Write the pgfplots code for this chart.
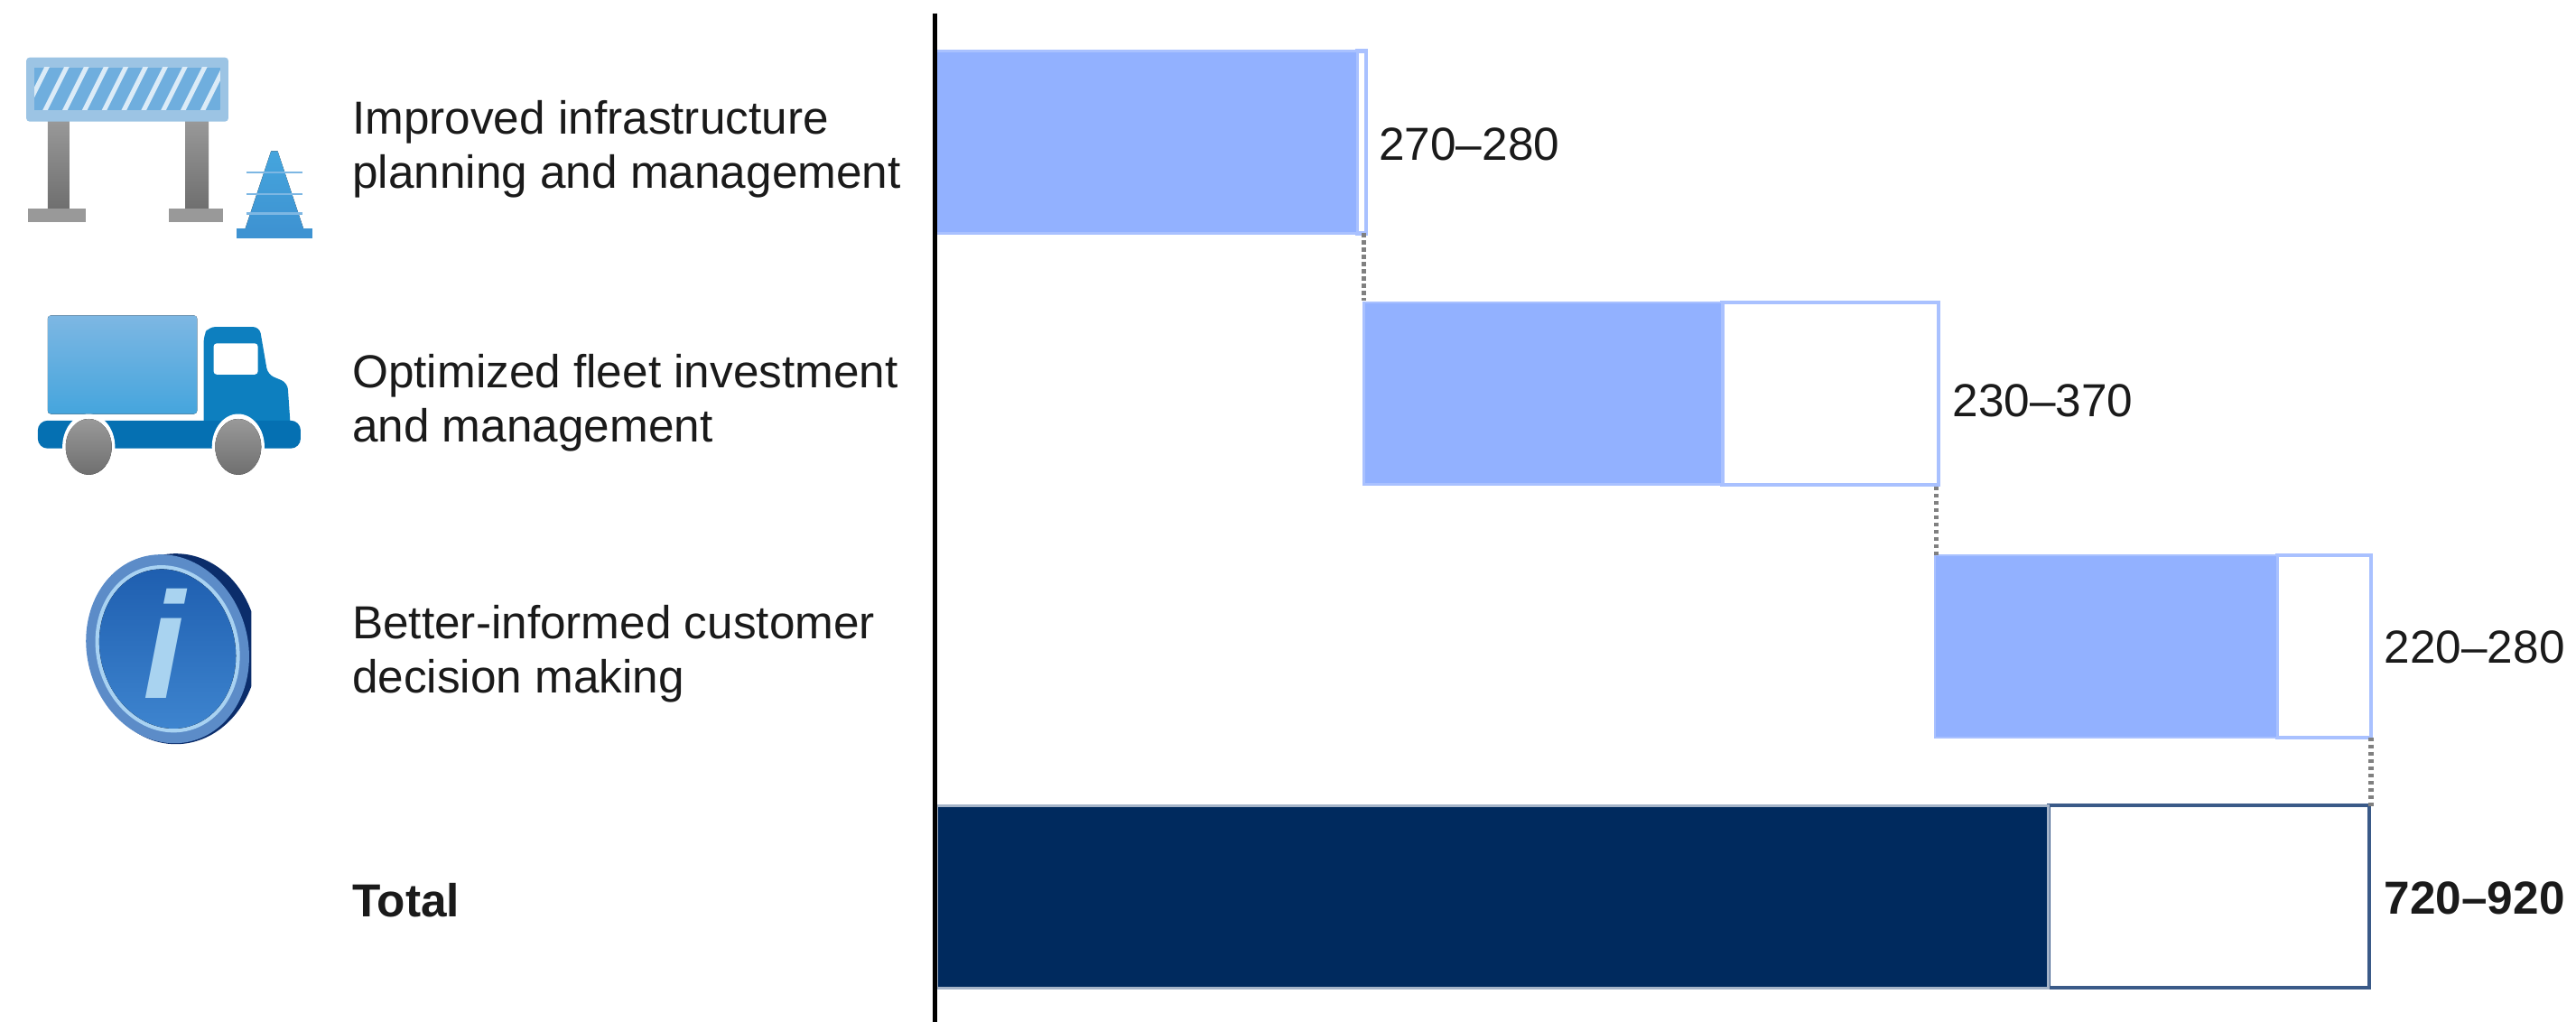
\documentclass[border=0pt]{standalone}
\usepackage{pgfplots}
\pgfplotsset{compat=1.18}
\usepackage{pgfplotstable}
\usepackage{fontspec}
\setmainfont{Liberation Sans}
\definecolor{lightbar}{HTML}{92B1FF}
\definecolor{lightedge}{HTML}{A9C1FF}
\definecolor{navy}{HTML}{002A5E}
\definecolor{navyedge}{HTML}{3A5A88}
\definecolor{navyhalo}{HTML}{A5B4C8}
\definecolor{txt}{HTML}{1A1A1A}
\definecolor{board}{HTML}{6FAEDE}
\definecolor{boardedge}{HTML}{9CC4E4}
\definecolor{cone}{HTML}{3E93D2}
\definecolor{cargoA}{HTML}{7DB7E3}
\definecolor{cargoB}{HTML}{45A5DD}
\definecolor{cab}{HTML}{0D7FBF}
\definecolor{chassis}{HTML}{0570B2}
\definecolor{wheelA}{HTML}{999999}
\definecolor{wheelB}{HTML}{6F6F6F}
\definecolor{infoA}{HTML}{3F86D0}
\definecolor{infoB}{HTML}{1F5FB0}
\definecolor{infoRing}{HTML}{A8D2F2}
\definecolor{infoEdge}{HTML}{5C8CC8}
\definecolor{infoDark}{HTML}{0B2D6B}
\definecolor{infoI}{HTML}{A9D3F0}
\pgfplotstableread{
y offset low range
86.5 0 270 6
239.5 274.5 230 139
393.5 641 220 60
}\bars
\begin{document}
\begin{tikzpicture}
\useasboundingbox (0,0) rectangle (784pt,311pt);
\begin{axis}[
  at={(0,0)}, anchor=south west,
  scale only axis, width=784pt, height=311pt,
  xmin=-601.27, xmax=1052.74, ymin=0, ymax=622, y dir=reverse,
  hide axis, clip=false,
  xbar stacked, bar width=55.5pt,
]
\addplot+[draw=none, fill=none, forget plot] table[x=offset,y=y] {\bars};
\addplot+[draw=lightedge, fill=lightbar, line width=0.7pt] table[x=low,y=y] {\bars};
\addplot+[draw=lightedge, fill=white, line width=1.2pt] table[x=range,y=y] {\bars};
\end{axis}
\begin{axis}[
  at={(0,0)}, anchor=south west,
  scale only axis, width=784pt, height=311pt,
  xmin=-601.27, xmax=1052.74, ymin=0, ymax=622, y dir=reverse,
  hide axis, clip=false,
  xbar stacked, bar width=55.5pt,
]
\addplot+[draw=navyhalo, fill=navy, line width=0.8pt] table[x=low,y=y] {
y low
546 714
};
\addplot+[draw=navyedge, fill=white, line width=1.1pt] table[x=range,y=y] {
y range
546 206
};
\end{axis}
\begin{axis}[
  at={(0,0)}, anchor=south west,
  scale only axis, width=784pt, height=311pt,
  xmin=-601.27, xmax=1052.74, ymin=0, ymax=622, y dir=reverse,
  hide axis, clip=false,
]
\addplot[black, line width=1.4pt, forget plot] coordinates {(-1,8) (-1,622)};
\addplot[gray, line width=1.5pt, dash pattern=on 1.2pt off 1pt, forget plot] coordinates {(274.5,142) (274.5,183)};
\addplot[gray, line width=1.5pt, dash pattern=on 1.2pt off 1pt, forget plot] coordinates {(642,296) (642,338)};
\addplot[gray, line width=1.5pt, dash pattern=on 1.2pt off 1pt, forget plot] coordinates {(921,449) (921,491)};
\tikzset{vl/.style={anchor=west, inner sep=0pt, font=\fontsize{14.1}{16.5}\selectfont, text=txt},
         cl/.style={anchor=west, inner sep=0pt, align=left, font=\fontsize{14.1}{16.5}\selectfont, text=txt}}
\node[vl] at (axis cs:283.8,88) {270–280};
\node[vl] at (axis cs:652,244) {230–370};
\node[vl] at (axis cs:929.3,394) {220–280};
\node[vl, font=\fontsize{14.1}{16.5}\selectfont\bfseries] at (axis cs:929.3,547) {720–920};
\node[cl] at (axis cs:-375.5,91) {Improved infrastructure\\planning and management};
\node[cl] at (axis cs:-375.5,245) {Optimized fleet investment\\and management};
\node[cl] at (axis cs:-375.5,398) {Better-informed customer\\decision making};
\node[cl, font=\fontsize{14.1}{16.5}\selectfont\bfseries] at (axis cs:-375.5,548) {Total};
\end{axis}
% Icons (decorative)
\begin{scope}[shift={(0,311pt)}, x=0.5pt, y=-0.5pt]
  % barrier
  \fill[top color=wheelA, bottom color=wheelB] (29,73) rectangle (42,127);
  \fill[top color=wheelA, bottom color=wheelB] (113,73) rectangle (127,127);
  \fill[wheelA] (17,127) rectangle (52,135);
  \fill[wheelA] (103,127) rectangle (136,135);
  \fill[boardedge, rounded corners=1pt] (16,35) rectangle (139,74);
  \fill[board] (21,41) rectangle (134,67);
  \begin{scope}
    \clip (21,41) rectangle (134,67);
    \foreach \a in {14,26,...,146} \draw[white!75!board, line width=1.4pt] (\a,70) -- (\a+16,38);
  \end{scope}
  % cone
  \fill[top color=cargoB, bottom color=cone] (165,92) -- (169,92) -- (185,140) -- (149,140) -- cycle;
  \foreach \yy in {105,118,130} \draw[cargoA, line width=0.6pt] (150,\yy) -- (184,\yy);
  \fill[white] (0,0) (0,0);
  \fill[cone] (144,139) rectangle (190,145);
  % truck
  \fill[rounded corners=1pt, top color=cargoA, bottom color=cargoB] (29,192) rectangle (120,252);
  \fill[rounded corners=2pt, fill=cab] (124,204) -- (127,199) -- (158,199) -- (163,228) -- (175,233) -- (177,262) -- (124,262) -- cycle;
  \fill[white, rounded corners=1pt] (130,209) rectangle (157,228);
  \fill[rounded corners=3pt, fill=chassis] (23,256) rectangle (183,273);
  \foreach \c in {54,145} {
    \fill[white] (\c,272) ellipse (16 and 20);
    \fill[top color=wheelA, bottom color=wheelB] (\c,272) ellipse (14 and 17);
  }
  % info
  \begin{scope}
    \clip (40,330) rectangle (153,460);
    \fill[infoDark] (107,395) ellipse (50 and 58);
    \fill[rotate around={15:(102,395)}, infoEdge] (102,395) ellipse (49 and 58);
    \draw[rotate around={15:(102,395)}, infoRing, line width=1.4pt] (102,395) ellipse (42 and 50);
    \fill[rotate around={15:(102,395)}, top color=infoB, bottom color=infoA] (102,395) ellipse (41 and 49);
  \end{scope}
  \node[text=infoI, font=\fontsize{46}{46}\selectfont\rmfamily\bfseries\itshape] at (100,392) {i};
\end{scope}
\end{tikzpicture}
\end{document}
